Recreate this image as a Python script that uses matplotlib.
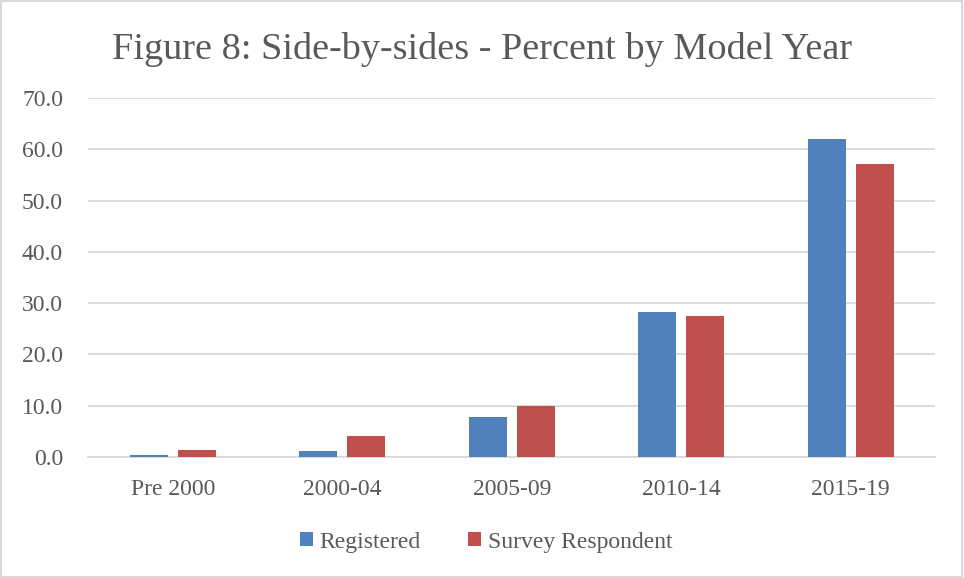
import numpy as np
import matplotlib.pyplot as plt
from matplotlib.patches import Rectangle

# data
categories = ["Pre 2000", "2000-04", "2005-09", "2010-14", "2015-19"]
registered = [0.45, 1.2, 7.9, 28.3, 62.1]
survey = [1.4, 4.1, 10.0, 27.5, 57.1]

plt.rcParams['font.family'] = ['Liberation Serif', 'DejaVu Serif']
txt = '#595959'
blue = '#4F81BD'
red = '#C0504D'

fig = plt.figure(figsize=(9.64, 5.78), dpi=100)
ax = fig.add_axes([0.0913, 0.2093, 0.879, 0.6211])

x = np.arange(len(categories))
w = 0.225
off = 0.142
ax.bar(x - off, registered, w, color=blue, label="Registered", zorder=3)
ax.bar(x + off, survey, w, color=red, label="Survey Respondent", zorder=3)

ax.set_xlim(-0.5, len(categories) - 0.5)
ax.set_ylim(0, 70)
ax.set_yticks(np.arange(0, 71, 10))
ax.set_yticklabels([f"{v:.1f}" for v in np.arange(0, 71, 10)])
ax.set_xticks(x)
ax.set_xticklabels(categories)
ax.tick_params(axis='both', length=0, labelsize=17, colors=txt)
ax.tick_params(axis='y', pad=18)
ax.tick_params(axis='x', pad=16)
ax.grid(axis='y', color='#D9D9D9', linewidth=1.3, zorder=0)
for s in ['top', 'right', 'left']:
    ax.spines[s].set_visible(False)
ax.spines['bottom'].set_color('#D9D9D9')
ax.spines['bottom'].set_linewidth(1.3)

fig.text(0.5, 0.914, "Figure 8: Side-by-sides - Percent by Model Year",
         ha='center', va='center', fontsize=27.5, color=txt)

ax.legend(loc='center', bbox_to_anchor=(0.47, -0.237), ncol=2, frameon=False,
          fontsize=17, labelcolor=txt, handlelength=0.55, handleheight=0.55,
          handletextpad=0.3, columnspacing=2.0)

fig.patches.append(Rectangle((0.001, 0.002), 0.997, 0.996, transform=fig.transFigure,
                             fill=False, edgecolor='#D9D9D9', linewidth=1.5))

fig.savefig("out.png", dpi=100)
